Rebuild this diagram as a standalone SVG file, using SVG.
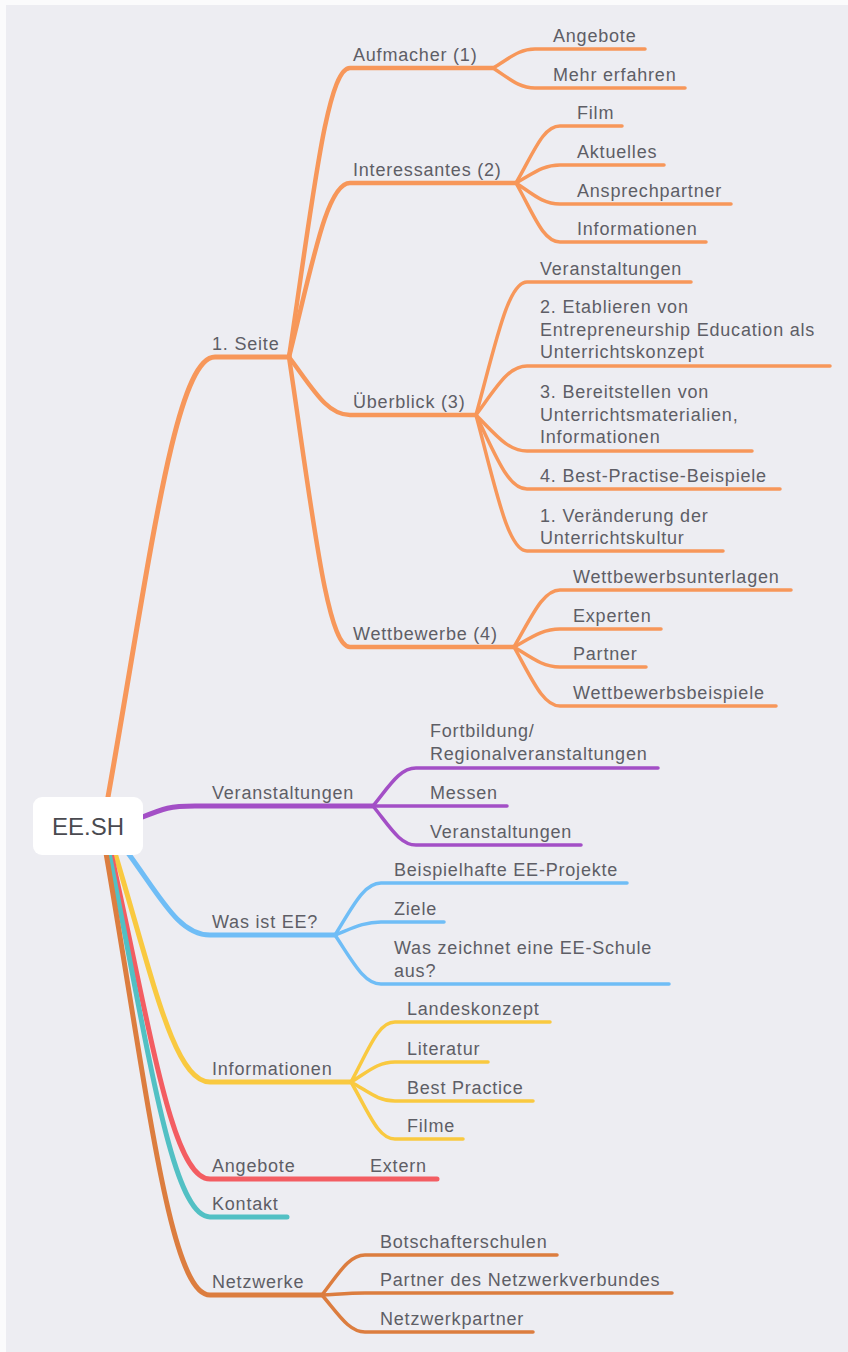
<svg xmlns="http://www.w3.org/2000/svg" width="848" height="1352" viewBox="0 0 848 1352">
<style>
.t{font-family:"Liberation Sans",Arial,sans-serif;font-size:18px;letter-spacing:0.8px;fill:#5e5e66}
.root{font-family:"Liberation Sans",Arial,sans-serif;font-size:24px;fill:#4a4a50}
.c{fill:none;stroke-linecap:round;stroke-linejoin:round}
.l1{stroke-width:5}
.l2{stroke-width:4.5}
.l3{stroke-width:3.5}
.or{stroke:#f7975a}
.pu{stroke:#a34fc6}
.bl{stroke:#6fbdf6}
.ye{stroke:#f9c940}
.re{stroke:#f35d62}
.te{stroke:#52c0c4}
.dk{stroke:#dc7d3f}
</style>
<rect x="0" y="0" width="848" height="1352" fill="#fbfbfc"/>
<rect x="6" y="5" width="842" height="1347" fill="#ededf2"/>
<g id="connectors">
<path class="c l1 or" d="M108,797 C150,560 175,357 215,357 H289"/>
<path class="c l1 pu" d="M140,818 C165,808 170,806 195,806 H373"/>
<path class="c l1 bl" d="M128,853 C161,898 179,935 210,935 H335"/>
<path class="c l1 ye" d="M115,853 C153,979 174,1082 210,1082 H351"/>
<path class="c l1 re" d="M111,853 C151,1032 172,1179 210,1179 H437"/>
<path class="c l1 te" d="M109,853 C149,1053 172,1217 210,1217 H287"/>
<path class="c l1 dk" d="M106,853 C148,1096 170,1295 210,1295 H322"/>
<path class="c l2 or" d="M289,357 C313,198 327,68 350,68 H493"/>
<path class="c l2 or" d="M289,357 C313,261 327,183 350,183 H516"/>
<path class="c l2 or" d="M289,357 C313,389 327,415 350,415 H476"/>
<path class="c l2 or" d="M289,357 C313,517 327,647 350,647 H514"/>
<path class="c l3 or" d="M493,68 C510,58 519,49 535,49 H645"/>
<path class="c l3 or" d="M493,68 C510,79 519,88 535,88 H685"/>
<path class="c l3 or" d="M516,183 C534,152 543,126 560,126 H622"/>
<path class="c l3 or" d="M516,183 C534,173 543,165 560,165 H664"/>
<path class="c l3 or" d="M516,183 C534,195 543,204 560,204 H731"/>
<path class="c l3 or" d="M516,183 C534,215 543,242 560,242 H706"/>
<path class="c l3 or" d="M476,415 C496,342 508,282 527,282 H691"/>
<path class="c l3 or" d="M476,415 C496,388 508,366 527,366 H830"/>
<path class="c l3 or" d="M476,415 C496,435 508,451 527,451 H752"/>
<path class="c l3 or" d="M476,415 C496,456 508,489 527,489 H780"/>
<path class="c l3 or" d="M476,415 C496,490 508,551 527,551 H723"/>
<path class="c l3 or" d="M514,647 C532,616 543,590 560,590 H791"/>
<path class="c l3 or" d="M514,647 C532,637 543,629 560,629 H661"/>
<path class="c l3 or" d="M514,647 C532,658 543,667 560,667 H646"/>
<path class="c l3 or" d="M514,647 C532,679 543,706 560,706 H776"/>
<path class="c l3 pu" d="M373,806 C390,785 400,768 416,768 H658"/>
<path class="c l3 pu" d="M373,806 H507"/>
<path class="c l3 pu" d="M373,806 C390,827 400,845 416,845 H581"/>
<path class="c l3 bl" d="M335,935 C353,906 364,883 381,883 H627"/>
<path class="c l3 bl" d="M335,935 C353,928 364,922 381,922 H444"/>
<path class="c l3 bl" d="M335,935 C353,962 364,984 381,984 H669"/>
<path class="c l3 ye" d="M351,1082 C369,1049 378,1022 395,1022 H550"/>
<path class="c l3 ye" d="M351,1082 C369,1071 378,1062 395,1062 H488"/>
<path class="c l3 ye" d="M351,1082 C369,1092 378,1101 395,1101 H533"/>
<path class="c l3 ye" d="M351,1082 C369,1113 378,1139 395,1139 H463"/>
<path class="c l3 dk" d="M322,1295 C339,1273 349,1255 365,1255 H557"/>
<path class="c l3 dk" d="M322,1295 C340,1294 350,1293 365,1293 H672"/>
<path class="c l3 dk" d="M322,1295 C339,1315 349,1332 365,1332 H533"/>
</g>
<g id="root"><rect x="33" y="797" width="110" height="58" rx="9" fill="#ffffff"/><text class="root" x="88" y="835" text-anchor="middle">EE.SH</text></g>
<g id="n-seite"><text class="t" x="212" y="350">1. Seite</text></g>
<g id="n-aufmacher"><text class="t" x="353" y="61">Aufmacher (1)</text></g>
<g id="n-auf-angebote"><text class="t" x="553" y="42">Angebote</text></g>
<g id="n-auf-mehr"><text class="t" x="553" y="81">Mehr erfahren</text></g>
<g id="n-interessantes"><text class="t" x="353" y="176">Interessantes (2)</text></g>
<g id="n-film"><text class="t" x="577" y="119">Film</text></g>
<g id="n-aktuelles"><text class="t" x="577" y="158">Aktuelles</text></g>
<g id="n-ansprech"><text class="t" x="577" y="197">Ansprechpartner</text></g>
<g id="n-int-info"><text class="t" x="577" y="235">Informationen</text></g>
<g id="n-ueberblick"><text class="t" x="353" y="408">Überblick (3)</text></g>
<g id="n-ue-veranst"><text class="t" x="540" y="275">Veranstaltungen</text></g>
<g id="n-etablieren"><text class="t" x="540" y="313">2. Etablieren von</text><text class="t" x="540" y="336">Entrepreneurship Education als</text><text class="t" x="540" y="358">Unterrichtskonzept</text></g>
<g id="n-bereitstellen"><text class="t" x="540" y="398">3. Bereitstellen von</text><text class="t" x="540" y="421">Unterrichtsmaterialien,</text><text class="t" x="540" y="443">Informationen</text></g>
<g id="n-best"><text class="t" x="540" y="482">4. Best-Practise-Beispiele</text></g>
<g id="n-veraenderung"><text class="t" x="540" y="522">1. Veränderung der</text><text class="t" x="540" y="544">Unterrichtskultur</text></g>
<g id="n-wettbewerbe"><text class="t" x="353" y="640">Wettbewerbe (4)</text></g>
<g id="n-unterlagen"><text class="t" x="573" y="583">Wettbewerbsunterlagen</text></g>
<g id="n-experten"><text class="t" x="573" y="622">Experten</text></g>
<g id="n-partner"><text class="t" x="573" y="660">Partner</text></g>
<g id="n-beispiele"><text class="t" x="573" y="699">Wettbewerbsbeispiele</text></g>
<g id="n-veranstaltungen"><text class="t" x="212" y="799">Veranstaltungen</text></g>
<g id="n-fortbildung"><text class="t" x="430" y="737">Fortbildung/</text><text class="t" x="430" y="760">Regionalveranstaltungen</text></g>
<g id="n-messen"><text class="t" x="430" y="799">Messen</text></g>
<g id="n-veranst2"><text class="t" x="430" y="838">Veranstaltungen</text></g>
<g id="n-wasistee"><text class="t" x="212" y="928">Was ist EE?</text></g>
<g id="n-projekte"><text class="t" x="394" y="876">Beispielhafte EE-Projekte</text></g>
<g id="n-ziele"><text class="t" x="394" y="915">Ziele</text></g>
<g id="n-schule"><text class="t" x="394" y="954">Was zeichnet eine EE-Schule</text><text class="t" x="394" y="977">aus?</text></g>
<g id="n-informationen"><text class="t" x="212" y="1075">Informationen</text></g>
<g id="n-landes"><text class="t" x="407" y="1015">Landeskonzept</text></g>
<g id="n-literatur"><text class="t" x="407" y="1055">Literatur</text></g>
<g id="n-bestpractice"><text class="t" x="407" y="1094">Best Practice</text></g>
<g id="n-filme"><text class="t" x="407" y="1132">Filme</text></g>
<g id="n-angebote"><text class="t" x="212" y="1172">Angebote</text></g>
<g id="n-extern"><text class="t" x="370" y="1172">Extern</text></g>
<g id="n-kontakt"><text class="t" x="212" y="1210">Kontakt</text></g>
<g id="n-netzwerke"><text class="t" x="212" y="1288">Netzwerke</text></g>
<g id="n-botschafter"><text class="t" x="380" y="1248">Botschafterschulen</text></g>
<g id="n-verbund"><text class="t" x="380" y="1286">Partner des Netzwerkverbundes</text></g>
<g id="n-netzpartner"><text class="t" x="380" y="1325">Netzwerkpartner</text></g>
</svg>
